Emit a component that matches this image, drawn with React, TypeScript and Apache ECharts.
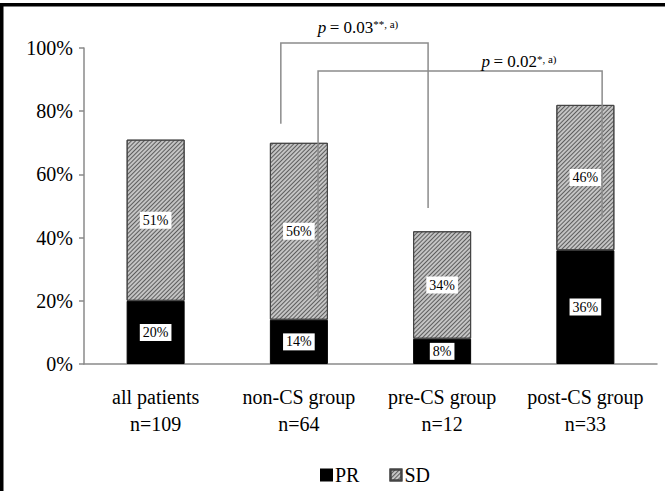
import React, { useEffect, useRef } from "react";
import * as echarts from "echarts";

// ---- data ----
const groupNames = ["all patients", "non-CS group", "pre-CS group", "post-CS group"];
const groupN = [109, 64, 12, 33];
const prValues = [20, 14, 8, 36];
const sdValues = [51, 56, 34, 46];
const yTickMin = 0;
const yTickMax = 100;
const yTickStep = 20;
const pTexts = ["0.03", "0.02"];
const pMarks = ["**, a)", "*, a)"];

// ---- annotation geometry (category units / percent values) ----
const bracketDefs = [
  { left: 0.874, right: 1.902, top: 101.6, leftBottom: 76, rightBottom: 49.4, textX: 1.413, textY: 106.6 },
  { left: 1.134, right: 3.117, top: 92.7, leftBottom: 21, rightBottom: 46.2, textX: 2.537, textY: 95.6 },
];

const FONT = "'Liberation Serif', 'Times New Roman', serif";
const AXIS_GRAY = "#8a8a8a";

export default function App() {
  const ref = useRef<HTMLDivElement>(null);

  useEffect(() => {
    if (!ref.current) return;
    const chart = echarts.init(ref.current, null, { renderer: "svg" });
    const categories = groupNames.map((g, i) => `${g}\nn=${groupN[i]}`);

    const labelStyle = {
      show: true,
      position: "inside",
      formatter: "{c}%",
      fontFamily: FONT,
      fontSize: 14,
      color: "#000",
      backgroundColor: "#fff",
      padding: [2, 3, 1, 3],
    };

    chart.setOption({
      animation: false,
      backgroundColor: "#fff",
      grid: { left: 84, right: 8, top: 48, bottom: 127, containLabel: false },
      legend: {
        data: ["PR", "SD"],
        top: 460,
        left: 315,
        itemWidth: 11,
        itemHeight: 11,
        itemGap: 30,
        icon: "rect",
        textStyle: { fontFamily: FONT, fontSize: 20, color: "#000", padding: [0, 0, 0, -2] },
      },
      xAxis: {
        type: "category",
        data: categories,
        axisLine: { show: true, lineStyle: { color: AXIS_GRAY, width: 1.5 } },
        axisTick: { show: false },
        axisLabel: {
          interval: 0,
          margin: 19,
          fontFamily: FONT,
          fontSize: 20,
          lineHeight: 27,
          color: "#000",
        },
      },
      yAxis: {
        type: "value",
        min: yTickMin,
        max: yTickMax,
        interval: yTickStep,
        axisLine: { show: true, lineStyle: { color: AXIS_GRAY, width: 1.5 } },
        axisTick: { show: true, length: 5, lineStyle: { color: AXIS_GRAY, width: 1.5 } },
        splitLine: { show: false },
        axisLabel: {
          formatter: "{value}%",
          margin: 11,
          fontFamily: FONT,
          fontSize: 20,
          color: "#000",
        },
      },
      series: [
        {
          name: "PR",
          type: "bar",
          stack: "total",
          data: prValues,
          barWidth: 58,
          itemStyle: { color: "#000", borderColor: "#000", borderWidth: 1 },
          label: labelStyle,
        },
        {
          name: "SD",
          type: "bar",
          stack: "total",
          data: sdValues,
          barWidth: 58,
          itemStyle: {
            color: "#c4c4c4",
            borderColor: "#444",
            borderWidth: 1,
            decal: {
              symbol: "rect",
              symbolSize: 1,
              color: "rgba(50,50,50,0.7)",
              dashArrayX: [1, 0],
              dashArrayY: [1, 2],
              rotation: -Math.PI / 4,
            },
          },
          label: labelStyle,
        },
      ],
    });

    const x0 = chart.convertToPixel({ xAxisIndex: 0 }, 0) as number;
    const x1 = chart.convertToPixel({ xAxisIndex: 0 }, 1) as number;
    const xAt = (c: number) => x0 + c * (x1 - x0);
    const yAt = (v: number) => chart.convertToPixel({ yAxisIndex: 0 }, v) as number;

    const graphics: any[] = [
      { type: "rect", shape: { x: 0, y: 3, width: 665, height: 3.5 }, style: { fill: "#000" }, z: 100 },
      { type: "rect", shape: { x: 0, y: 3, width: 3.5, height: 488 }, style: { fill: "#000" }, z: 100 },
    ];
    bracketDefs.forEach((b, i) => {
      graphics.push({
        type: "polyline",
        shape: {
          points: [
            [xAt(b.left), yAt(b.leftBottom)],
            [xAt(b.left), yAt(b.top)],
            [xAt(b.right), yAt(b.top)],
            [xAt(b.right), yAt(b.rightBottom)],
          ],
        },
        style: { stroke: "#8c8c8c", lineWidth: 1.5, fill: null },
        z: 50,
      });
      graphics.push({
        type: "text",
        x: xAt(b.textX),
        y: yAt(b.textY),
        style: {
          text: `{it|p} {n|= ${pTexts[i]}}{sup|${pMarks[i]}}`,
          align: "center",
          verticalAlign: "middle",
          rich: {
            it: { fontFamily: FONT, fontSize: 17, fontStyle: "italic", fill: "#000", color: "#000" },
            n: { fontFamily: FONT, fontSize: 17, fill: "#000", color: "#000" },
            sup: { fontFamily: FONT, fontSize: 11, verticalAlign: "top", fill: "#000", color: "#000" },
          },
        },
        z: 60,
      });
    });
    chart.setOption({ graphic: graphics });

    return () => chart.dispose();
  }, []);

  return (
    <div
      ref={ref}
      style={{ position: "fixed", left: 0, top: 0, width: 665, height: 491, background: "#fff" }}
    />
  );
}
